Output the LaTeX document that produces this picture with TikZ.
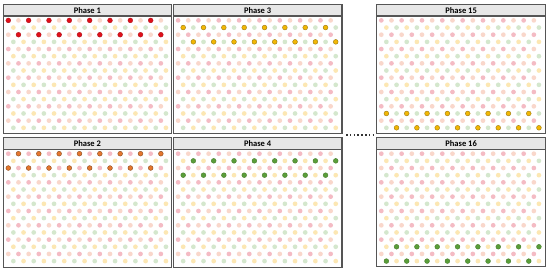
\documentclass[tikz,border=0pt]{standalone}
\usepackage{fontspec}
\setmainfont{Carlito}
\definecolor{l0}{HTML}{F4BBC4}
\definecolor{l1}{HTML}{F9D7CB}
\definecolor{l2}{HTML}{FCE7B3}
\definecolor{l3}{HTML}{D4E7CD}
\definecolor{d0}{HTML}{E0101A}
\definecolor{d1}{HTML}{E5772F}
\definecolor{d2}{HTML}{F2B705}
\definecolor{d3}{HTML}{5A9E3A}
\definecolor{o0}{HTML}{B0101A}
\definecolor{o1}{HTML}{8A4A1E}
\definecolor{o2}{HTML}{9A7A10}
\definecolor{o3}{HTML}{4A7E2E}
\definecolor{framegray}{HTML}{555555}
\definecolor{hdrgray}{HTML}{E7E7E7}
\tikzset{
  panelbox/.style={draw=framegray, line width=1.2pt, fill=white, inner sep=0pt, anchor=north west},
  hdr/.style={draw=framegray, line width=1.2pt, fill=hdrgray, inner sep=0pt, anchor=north west,
    minimum height=11.5pt, font=\bfseries\fontsize{8.5}{9}\selectfont},
  lightdot/.style={fill=l#1},
  darkdot/.style={fill=d#1, draw=o#1, line width=0.4pt},
  ellipsis/.style={draw=black!80, line width=1.5pt, dash pattern=on 1.5pt off 2.3pt},
}
\newcommand\phasepanel[6]{%
  \node[panelbox, minimum width=#4pt, minimum height=#5pt] (#1) at (#2,#3) {};
  \node[hdr, minimum width=#4pt] (#1h) at (#2,#3) {Phase #6};
  \pgfmathtruncatemacro\hb{int((#6-1)/4)}%
  \pgfmathtruncatemacro\hc{mod(#6-1,4)}%
  \foreach \r in {0,...,15}{%
    \foreach \k in {0,...,15}{%
      \pgfmathtruncatemacro\g{mod(\r,4)}%
      \pgfmathtruncatemacro\p{mod(\k,2)}%
      \pgfmathtruncatemacro\c{\g<2 ? 2*\g+\p : 2*(\g-2)+1-\p}%
      \pgfmathtruncatemacro\b{int(\r/4)}%
      \pgfmathsetmacro\xx{#2+5.3+10.17*\k+5.08*mod(\r,2)}%
      \pgfmathsetmacro\yy{#3+16.4+7.16*\r}%
      \ifnum\b=\hb\relax
        \ifnum\c=\hc\relax
          \filldraw[darkdot=\c] (\xx,\yy) circle[radius=2.4];
        \else
          \fill[lightdot=\c] (\xx,\yy) circle[radius=2.35];
        \fi
      \else
        \fill[lightdot=\c] (\xx,\yy) circle[radius=2.35];
      \fi
    }%
  }%
}
\begin{document}
\begin{tikzpicture}[x=1pt,y=-1pt]
\useasboundingbox (0,0) rectangle (550,272);
\phasepanel{p1}{3}{4}{167.5}{129}{1}
\phasepanel{p3}{172.8}{4}{168.5}{129}{3}
\phasepanel{p15}{376}{4}{169}{129}{15}
\phasepanel{p2}{3}{137.3}{167.5}{129.5}{2}
\phasepanel{p4}{172.8}{137.3}{168.5}{129.5}{4}
\phasepanel{p16}{376}{137.3}{169}{129}{16}
\coordinate (e1) at (346,135);
\coordinate (e2) at (374,135);
\draw[ellipsis] (e1) -- (e2);
\end{tikzpicture}
\end{document}
